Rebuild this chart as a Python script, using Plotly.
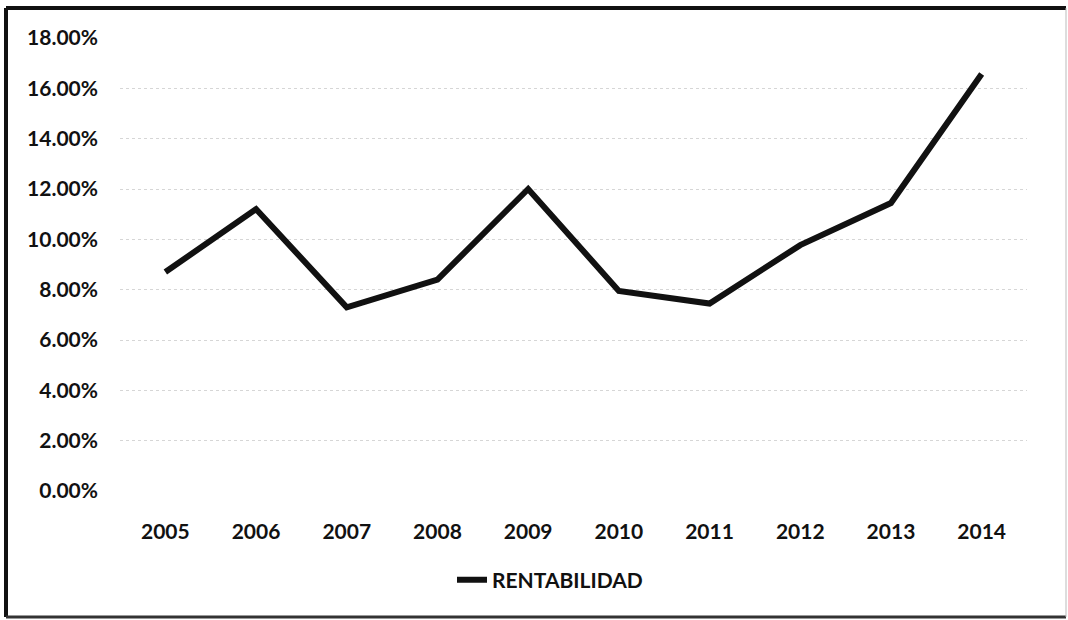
import plotly.graph_objects as go

# Rentabilidad anual (%)
years = ["2005", "2006", "2007", "2008", "2009", "2010", "2011", "2012", "2013", "2014"]
rentabilidad = [8.70, 11.20, 7.30, 8.40, 12.00, 7.95, 7.45, 9.77, 11.44, 16.57]
y_ticks = [0, 2, 4, 6, 8, 10, 12, 14, 16, 18]
y_tick_labels = [f"{v:.2f}%" for v in y_ticks]

W, H = 1068, 620
M_L, M_R, M_T, M_B = 120, 41, 38, 129
PW, PH = W - M_L - M_R, H - M_T - M_B


def px_x(px):
    return (px - M_L) / PW


def px_y(py):
    return (H - M_B - py) / PH


fig = go.Figure()
fig.add_trace(go.Scatter(
    x=years,
    y=rentabilidad,
    mode="lines",
    name="RENTABILIDAD",
    line=dict(color="#111111", width=6),
))

fig.update_layout(
    width=W,
    height=H,
    margin=dict(l=M_L, r=M_R, t=M_T, b=M_B),
    paper_bgcolor="white",
    plot_bgcolor="white",
    font=dict(family="Lato, 'Open Sans', sans-serif", color="#111111"),
    showlegend=True,
    legend=dict(
        orientation="h",
        x=px_x(452), xanchor="left",
        y=px_y(580), yanchor="middle",
        font=dict(size=21, weight="bold", color="#111111"),
        bgcolor="rgba(0,0,0,0)",
    ),
    xaxis=dict(
        type="category",
        range=[-0.5, 9.5],
        showgrid=False,
        showline=False,
        zeroline=False,
        ticks="",
        tickfont=dict(size=21, weight="bold"),
        ticklabelstandoff=26,
    ),
    yaxis=dict(
        range=[0, 18],
        tickvals=y_ticks,
        ticktext=y_tick_labels,
        showgrid=True,
        gridcolor="#d6d6d6",
        griddash="dot",
        gridwidth=1,
        showline=False,
        zeroline=False,
        ticks="",
        tickfont=dict(size=21, weight="bold"),
        ticklabelstandoff=21,
    ),
)

# Chart frame: heavy left/top/bottom edges, faint right edge
frame = [
    (px_x(6), px_y(8), px_x(6), px_y(617), "#111111", 4),
    (px_x(6), px_y(8), px_x(1066), px_y(8), "#111111", 4),
    (px_x(6), px_y(617), px_x(1066), px_y(617), "#333333", 3),
    (px_x(1066), px_y(8), px_x(1066), px_y(617), "#bbbbbb", 1),
]
for x0, y0, x1, y1, c, w in frame:
    fig.add_shape(type="line", xref="paper", yref="paper",
                  x0=x0, y0=y0, x1=x1, y1=y1,
                  line=dict(color=c, width=w))

fig.write_html("out.html")
